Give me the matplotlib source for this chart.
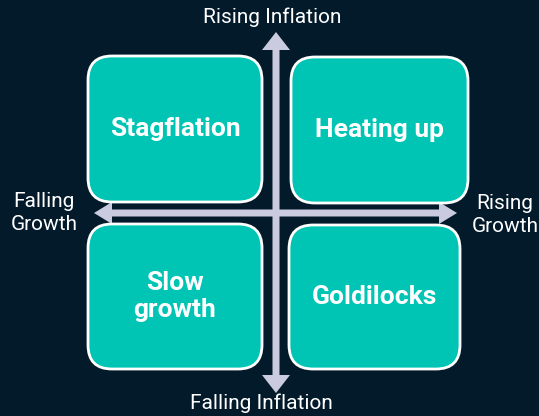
import numpy as np
import matplotlib.pyplot as plt
from matplotlib.patches import FancyBboxPatch, Polygon

# quadrant labels and boxes (left, top, right, bottom in pixels)
quad_labels = ['Stagflation', 'Heating up', 'Slow\ngrowth', 'Goldilocks']
quad_boxes = [(88, 56, 262, 202), (291, 57, 468, 203),
              (88, 224, 262, 369), (289, 225, 460, 369)]
axis_labels = ['Rising Inflation', 'Falling Inflation', 'Falling\nGrowth', 'Rising\nGrowth']
axis_pos = [(272, 17), (261, 403), (44, 213), (505, 215)]

bg = '#031a2b'
teal = '#00c4b4'
arrow_col = '#cbcbe0'

fig = plt.figure(figsize=(5.39, 4.16), dpi=100, facecolor=bg)
ax = fig.add_axes([0, 0, 1, 1])
ax.set_xlim(0, 539)
ax.set_ylim(416, 0)
ax.axis('off')

for (l, t, r, b), lab in zip(quad_boxes, quad_labels):
    rad = 24
    box = FancyBboxPatch((l + rad, t + rad), (r - l) - 2 * rad, (b - t) - 2 * rad,
                         boxstyle='round,pad=%d' % rad, fc=teal, ec='white', lw=2, zorder=2)
    ax.add_patch(box)
    ax.text((l + r) / 2, (t + b) / 2, lab, ha='center', va='center', color='white',
            fontsize=19, fontweight='bold', family='Roboto', linespacing=1.15, zorder=3)


def double_arrow(x0, y0, x1, y1, w=3.5, hw=14, hl=18):
    d = np.array([x1 - x0, y1 - y0], float)
    u = d / np.hypot(*d)
    n = np.array([-u[1], u[0]])
    p0 = np.array([x0, y0], float)
    p1 = np.array([x1, y1], float)
    pts = [p0, p0 + u * hl + n * hw, p0 + u * hl + n * w,
           p1 - u * hl + n * w, p1 - u * hl + n * hw, p1,
           p1 - u * hl - n * hw, p1 - u * hl - n * w,
           p0 + u * hl - n * w, p0 + u * hl - n * hw]
    ax.add_patch(Polygon(pts, closed=True, fc=arrow_col, ec='none', zorder=1))


double_arrow(276, 32, 276, 393)
double_arrow(94, 213, 457, 213, hw=11, hl=18)

for (x, y), lab in zip(axis_pos, axis_labels):
    ax.text(x, y, lab, ha='center', va='center', color='white', fontsize=15,
            family='Roboto', linespacing=1.3)

fig.savefig('out.png', dpi=100, facecolor=bg)
